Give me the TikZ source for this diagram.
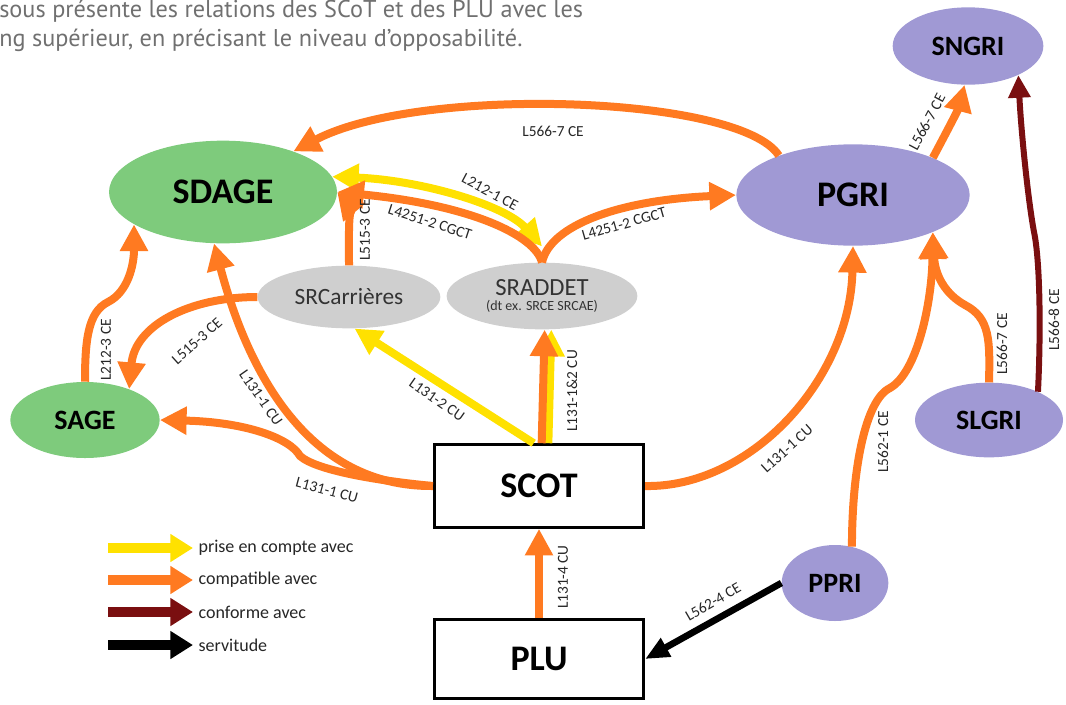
\documentclass[tikz,border=0pt]{standalone}
\usepackage{fontspec}
\setmainfont{Carlito}
\newfontfamily\headfont{PT Sans}
\usetikzlibrary{arrows.meta,shapes.geometric}
\definecolor{orangeA}{HTML}{FF7A21}
\definecolor{yellowA}{HTML}{FFE100}
\definecolor{darkredA}{HTML}{7A0F10}
\definecolor{greenA}{HTML}{7ECB7C}
\definecolor{purpleA}{HTML}{A099D4}
\definecolor{greyA}{HTML}{CFCFCF}
\definecolor{labelgrey}{HTML}{262626}
\definecolor{headgrey}{HTML}{707070}
\tikzset{
  greenell/.style={ellipse, fill=greenA, inner sep=0pt},
  purpleell/.style={ellipse, fill=purpleA, inner sep=0pt},
  greyell/.style={ellipse, fill=greyA, inner sep=0pt, text=black!80, align=center},
  docbox/.style={rectangle, draw=black, line width=2.2pt, fill=white, minimum width=157pt, font=\bfseries\fontsize{27}{27}\selectfont},
  bigname/.style={font=\bfseries\fontsize{27}{27}\selectfont},
  smallname/.style={font=\bfseries\fontsize{21}{21}\selectfont},
  lbl/.style={font=\fontsize{11.5}{11.5}\selectfont, text=labelgrey, inner sep=1pt},
  legtext/.style={font=\fontsize{13.5}{13.5}\selectfont, text=labelgrey, anchor=west, inner xsep=4pt},
  head/.style={font=\headfont\fontsize{18.2}{18.2}\selectfont, text=headgrey, inner sep=0pt},
  comp/.style={draw=orangeA, line width=6pt, ->},
  prise/.style={draw=yellowA, line width=6pt, ->},
  conf/.style={draw=darkredA, line width=4.5pt, -{Triangle[length=17pt,width=16pt]}},
  serv/.style={draw=black, line width=5pt, -{Triangle[length=18pt,width=15pt]}}
}
\begin{document}
\begin{tikzpicture}[x=0.75pt,y=-0.75pt,>={Triangle[length=20pt,width=20pt]}]
\useasboundingbox (0,0) rectangle (1066,704);
% header text
\node[head, anchor=base west] (hd1) at (-1,17) {sous présente les relations des SCoT et des PLU avec les};
\node[head, anchor=base west] (hd2) at (-1,46) {ng supérieur, en précisant le niveau d’opposabilité.};
% plans
\node[greenell, bigname, minimum width=171pt, minimum height=77pt] (sdage) at (223,192) {SDAGE};
\node[greenell, smallname, minimum width=112pt, minimum height=57pt] (sage) at (85,420) {SAGE};
\node[purpleell, bigname, minimum width=175pt, minimum height=76pt] (pgri) at (853,195) {PGRI};
\node[purpleell, smallname, minimum width=113pt, minimum height=58pt] (sngri) at (968,46) {SNGRI};
\node[purpleell, smallname, minimum width=111pt, minimum height=56pt] (slgri) at (989,420) {SLGRI};
\node[purpleell, smallname, minimum width=80pt, minimum height=57pt] (ppri) at (835,583) {PPRI};
\node[greyell, font=\fontsize{17.5}{17.5}\selectfont, minimum width=137pt, minimum height=47pt] (srcar) at (349,297) {SRCarrières};
\node[greyell, minimum width=143pt, minimum height=50pt] (sraddet) at (542,296) {{\fontsize{18.5}{18.5}\selectfont SRADDET}\\[-1pt]{\fontsize{10.5}{10.5}\selectfont (dt ex. SRCE SRCAE)}};
\node[docbox, minimum height=62pt] (scot) at (539,486) {SCOT};
\node[docbox, minimum height=59pt] (plu) at (539,659) {PLU};
% prise en compte
\draw[prise,<->] (sdage.8) .. controls (420,180) and (505,205) .. ([yshift=12pt]sraddet.north);
\draw[prise] ([xshift=-4pt]scot.north) -- (srcar.-80);
\draw[prise] ([xshift=7pt]scot.north) -- ([xshift=7pt]sraddet.south);
% compatible
\draw[comp] (pgri.152) .. controls (740,95) and (420,85) .. (sdage.30);
\draw[comp] (sraddet.north) .. controls (535,235) and (470,205) .. (sdage.east);
\draw[comp] (sraddet.north) .. controls (550,225) and (620,200) .. (pgri.west);
\draw[comp] (srcar.north) .. controls (349,235) and (348,205) .. (sdage.east);
\draw[comp] (srcar.west) .. controls (190,297) and (135,325) .. (sage.35);
\draw[comp] (sage.north) .. controls (85,340) and (88,312) .. (108,302) .. controls (128,292) and (134,265) .. (sdage.200);
\draw[comp] (scot.west) .. controls (306,487) and (247,368) .. (sdage.260);
\draw[comp] (scot.west) .. controls (390,482) and (318,472) .. (300,456) .. controls (290,438) and (245,422) .. (sage.east);
\draw[comp] ([xshift=2pt]scot.north) -- ([xshift=2pt]sraddet.south);
\draw[comp] (scot.east) .. controls (750,488) and (850,380) .. (pgri.south);
\draw[comp] (ppri.65) .. controls (852,470) and (865,400) .. (890,388) .. controls (918,372) and (932,300) .. (pgri.-25);
\draw[comp] (slgri.north) .. controls (990,340) and (990,318) .. (965,305) .. controls (945,294) and (935,275) .. (pgri.-25);
\draw[comp] (pgri.25) .. controls (945,135) and (958,110) .. (sngri.-95);
\draw[comp] (plu.north) -- (scot.south);
% conforme
\draw[conf] (slgri.30) .. controls (1041,330) and (1040,260) .. (1034,232) .. controls (1028,200) and (1021,130) .. (sngri.-30);
% servitude
\draw[serv] (ppri.west) -- (plu.east);
% labels
\node[lbl] (l1) at (553,131) {L566-7 CE};
\node[lbl, rotate=-28] (l2) at (490,192) {L212-1 CE};
\node[lbl, rotate=-18] (l3) at (430,222) {L4251-2 CGCT};
\node[lbl, rotate=16] (l4) at (624,224) {L4251-2 CGCT};
\node[lbl, rotate=90] (l5) at (365,230) {L515-3 CE};
\node[lbl, rotate=42] (l6) at (197,341) {L515-3 CE};
\node[lbl, rotate=90] (l7) at (106,350) {L212-3 CE};
\node[lbl, rotate=-55] (l8) at (261,398) {L131-1 CU};
\node[lbl, rotate=-15] (l9) at (327,490) {L131-1 CU};
\node[lbl, rotate=-35] (l10) at (437,400) {L131-2 CU};
\node[lbl, rotate=90] (l11) at (572,391) {L131-1\&2 CU};
\node[lbl, rotate=42] (l12) at (787,449) {L131-1 CU};
\node[lbl, rotate=90] (l13) at (883,442) {L562-1 CE};
\node[lbl, rotate=90] (l14) at (1002,344) {L566-7 CE};
\node[lbl, rotate=90] (l15) at (1054,320) {L566-8 CE};
\node[lbl, rotate=62] (l16) at (927,122) {L566-7 CE};
\node[lbl, rotate=90] (l17) at (563,577) {L131-4 CU};
\node[lbl, rotate=30] (l18) at (713,602) {L562-4 CE};
% legend
\coordinate (lgy0) at (108,548);
\coordinate (lgo0) at (108,580);
\coordinate (lgr0) at (108,612);
\coordinate (lgb0) at (108,645);
\node[legtext] (lgy) at (193,548) {prise en compte avec};
\node[legtext] (lgo) at (193,580) {compatible avec};
\node[legtext] (lgr) at (193,612) {conforme avec};
\node[legtext] (lgb) at (193,645) {servitude};
\draw[draw=yellowA, line width=7pt, -{Triangle[length=17pt,width=20pt]}] (lgy0) -- (lgy.west);
\draw[draw=orangeA, line width=7pt, -{Triangle[length=17pt,width=20pt]}] (lgo0) -- (lgo.west);
\draw[draw=darkredA, line width=7pt, -{Triangle[length=17pt,width=20pt]}] (lgr0) -- (lgr.west);
\draw[draw=black, line width=7pt, -{Triangle[length=17pt,width=20pt]}] (lgb0) -- (lgb.west);
\end{tikzpicture}
\end{document}
